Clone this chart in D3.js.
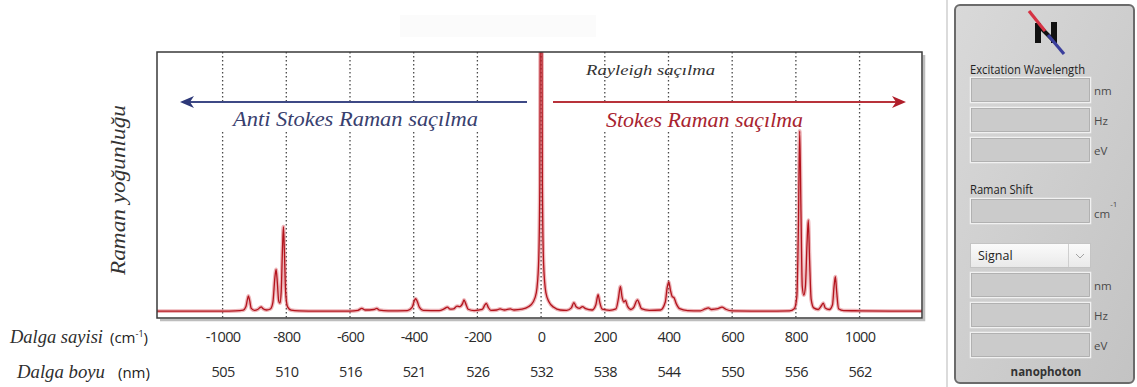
<!DOCTYPE html>
<html>
<head>
<meta charset="utf-8">
<script src="https://cdn.jsdelivr.net/npm/d3@7"></script>
<style>
body{margin:0;background:#fff}
svg{display:block}
</style>
</head>
<body>
<svg id="chart" width="1137" height="387"></svg>
<script>
// raman kayması (cm-1) ve karşılık gelen dalga boyları
const shiftTicks = [-1000,-800,-600,-400,-200,0,200,400,600,800,1000];
const wavelengthLabels = ['505','510','516','521','526','532','538','544','550','556','562'];

// spektrum, resimden okunan noktalar
const spectrumShift = [
  -1206,-1100,-1000,-960,-935,-927,-922,-919,-915,-910,-900,-890,-882,-879,-874,-862,-850,-842,-836,-832,
  -828,-824,-820,-816,-812,-809,-806,-802,-796,-785,-760,-700,-600,-575,-563,-552,-525,-516,-508,-480,
  -420,-405,-398,-394,-389,-382,-370,-320,-305,-294,-286,-275,-264,-255,-246,-242,-237,-229,-210,-185,
  -176,-172,-166,-158,-140,-129,-115,-97,-85,-60,-40,-25,-15,-8,-4,-2.5,0,2.5,4,8,
  15,25,40,60,80,95,103,110,120,130,140,160,172,179,184,192,215,235,243,249,
  254,260,265,271,282,292,299,303,308,315,340,375,390,396,401,406,412,417,424,435,
  460,500,515,525,535,555,568,580,600,700,780,795,803,808,812,816,820,825,830,835,
  839,843,848,856,870,880,886,892,905,915,920,924,928,934,950,1000,1100,1196
];
const spectrumIntensity = [
  2.6,2.6,2.6,2.7,3.0,4.2,7.0,8.3,6.5,3.6,2.9,3.2,4.0,4.2,3.6,3.0,3.4,6.0,15.0,18.3,
  13.0,6.5,5.6,10.0,26.0,34.3,25.0,9.5,4.2,3.0,2.7,2.6,2.6,2.9,3.6,3.0,3.2,3.6,3.0,2.7,
  2.8,4.0,6.5,7.3,6.3,4.0,2.9,2.8,3.4,4.1,3.3,3.4,4.5,4.3,5.6,6.8,5.5,3.3,2.8,3.2,
  5.0,5.5,4.0,2.9,3.0,3.4,3.0,3.4,3.0,3.3,4.2,6.0,9.5,20,50,115,130,115,50,20,
  9.5,6.0,4.0,3.0,2.9,3.8,5.8,4.2,3.6,4.3,3.5,3.0,5.0,8.8,6.0,3.3,2.9,3.4,7.5,11.9,
  8.0,6.0,6.6,4.5,3.2,4.2,6.3,6.8,5.5,3.5,2.9,3.0,6.0,11.5,13.6,10.5,8.0,7.7,5.5,3.5,
  2.8,2.7,3.4,3.8,3.2,3.5,4.1,3.3,2.7,2.6,2.7,3.5,8.0,35,70.3,40,12,8.6,12,28,
  36.8,22,7.0,3.8,3.2,4.6,5.6,3.8,3.2,5.0,12.0,15.5,10.0,3.5,2.8,2.7,2.6,2.6
];

const excitationUnits = ['nm','Hz','eV'];
const signalUnits = ['nm','Hz','eV'];

const svg = d3.select('#chart');
const plot = {left:157, right:922, top:52, bottom:318};

const x = d3.scaleLinear().domain([-1206,1196]).range([plot.left,plot.right]);
const y = d3.scaleLinear().domain([0,100]).range([plot.bottom,plot.top]);

const serif = '"Liberation Serif","DejaVu Serif",serif';
const sans = '"Open Sans","Noto Sans",sans-serif';

// soluk arka plan kutusu (orijinalde var)
svg.append('rect').attr('x',400).attr('y',15).attr('width',196).attr('height',22).attr('fill','#fbfbfb');

svg.append('defs').append('clipPath').attr('id','plotClip')
  .append('rect').attr('x',plot.left).attr('y',plot.top)
  .attr('width',plot.right-plot.left).attr('height',plot.bottom-plot.top);

// gölge
svg.append('path')
  .attr('d',`M${plot.right+2},${plot.top+3}V${plot.bottom+2}H${plot.left+3}`)
  .attr('fill','none').attr('stroke','#bdbdbd').attr('stroke-width',2.5);

svg.append('rect').attr('x',plot.left).attr('y',plot.top)
  .attr('width',plot.right-plot.left).attr('height',plot.bottom-plot.top).attr('fill','#fff');

// noktalı ızgara
svg.append('g').selectAll('line').data(shiftTicks).enter().append('line')
  .attr('x1',d=>x(d)).attr('x2',d=>x(d))
  .attr('y1',plot.top).attr('y2',plot.bottom)
  .attr('stroke','#4a4a4a').attr('stroke-width',1.3).attr('stroke-dasharray','1.6,2.4');

// yazıların arkasındaki beyaz bant
svg.append('rect').attr('x',218).attr('y',104).attr('width',266).attr('height',26).attr('fill','#fff');
svg.append('rect').attr('x',596).attr('y',104).attr('width',212).attr('height',26).attr('fill','#fff');

// spektrum
const points = spectrumShift.map((s,i)=>[s,spectrumIntensity[i]]);
const line = d3.line().x(d=>x(d[0])).y(d=>y(d[1])).curve(d3.curveMonotoneX);
const spec = svg.append('g').attr('clip-path','url(#plotClip)');
spec.append('path').datum(points).attr('d',line)
  .attr('fill','none').attr('stroke','rgba(214,90,100,0.45)').attr('stroke-width',3.8).attr('stroke-linejoin','round');
spec.append('path').datum(points).attr('d',line)
  .attr('fill','none').attr('stroke','#b3141d').attr('stroke-width',1.3).attr('stroke-linejoin','round');

// oklar
const arrowY = 102;
svg.append('line').attr('x1',188).attr('x2',527).attr('y1',arrowY).attr('y2',arrowY)
  .attr('stroke','#3d4985').attr('stroke-width',2);
svg.append('path').attr('d',`M180,${arrowY}L194,${arrowY-6}L190,${arrowY}L194,${arrowY+6}Z`).attr('fill','#2d3878');
svg.append('line').attr('x1',553).attr('x2',898).attr('y1',arrowY).attr('y2',arrowY)
  .attr('stroke','#b8323a').attr('stroke-width',2);
svg.append('path').attr('d',`M906,${arrowY}L892,${arrowY-6}L896,${arrowY}L892,${arrowY+6}Z`).attr('fill','#b01e2a');

svg.append('text').attr('x',233).attr('y',126)
  .attr('textLength',245).attr('lengthAdjust','spacingAndGlyphs')
  .style('font-family',serif).style('font-style','italic').style('font-size','22px')
  .attr('fill','#38406e').text('Anti Stokes Raman saçılma');
svg.append('text').attr('x',606).attr('y',127)
  .attr('textLength',197).attr('lengthAdjust','spacingAndGlyphs')
  .style('font-family',serif).style('font-style','italic').style('font-size','22px')
  .attr('fill','#a8232f').text('Stokes Raman saçılma');
svg.append('text').attr('x',586).attr('y',75)
  .attr('textLength',129).attr('lengthAdjust','spacingAndGlyphs')
  .style('font-family',serif).style('font-style','italic').style('font-size','15px')
  .attr('fill','#333').text('Rayleigh saçılma');

svg.append('text').attr('transform','translate(125,190) rotate(-90)')
  .attr('text-anchor','middle').attr('textLength',170).attr('lengthAdjust','spacingAndGlyphs')
  .style('font-family',serif).style('font-style','italic').style('font-size','21px')
  .attr('fill','#333').text('Raman yoğunluğu');

// çerçeve
svg.append('rect').attr('x',plot.left).attr('y',plot.top)
  .attr('width',plot.right-plot.left).attr('height',plot.bottom-plot.top)
  .attr('fill','none').attr('stroke','#3a3a3a').attr('stroke-width',1.5);

// eksen yazıları
const axisShift = svg.append('g').attr('transform','translate(0,332)')
  .call(d3.axisBottom(x).tickValues(shiftTicks).tickSize(0).tickPadding(0).tickFormat(d=>String(d)));
const axisWave = svg.append('g').attr('transform','translate(0,367)')
  .call(d3.axisBottom(x).tickValues(shiftTicks).tickSize(0).tickPadding(0)
    .tickFormat((d,i)=>wavelengthLabels[i]));
[axisShift,axisWave].forEach(g=>{
  g.select('.domain').remove();
  g.selectAll('text').style('font-family',sans).style('font-size','14.5px')
    .attr('fill','#2a2a2a').attr('letter-spacing','-0.6');
});

svg.append('text').attr('x',10).attr('y',343)
  .attr('textLength',93).attr('lengthAdjust','spacingAndGlyphs')
  .style('font-family',serif).style('font-style','italic').style('font-size','18px')
  .attr('fill','#2e2e2e').text('Dalga sayisi');
const l1b = svg.append('text').attr('x',110).attr('y',343).style('font-family',sans).style('font-size','15px').attr('fill','#222');
l1b.append('tspan').text('(cm');
l1b.append('tspan').attr('dy',-6).style('font-size','9px').text('-1');
l1b.append('tspan').attr('dy',6).text(')');

svg.append('text').attr('x',17).attr('y',378)
  .attr('textLength',88).attr('lengthAdjust','spacingAndGlyphs')
  .style('font-family',serif).style('font-style','italic').style('font-size','18px')
  .attr('fill','#2e2e2e').text('Dalga boyu');
svg.append('text').attr('x',118).attr('y',378).style('font-family',sans).style('font-size','15px')
  .attr('fill','#222').text('(nm)');

// sağ panel
const defs = svg.select('defs');
const pg = defs.append('linearGradient').attr('id','panelGrad').attr('x1',0).attr('y1',0).attr('x2',1).attr('y2',1);
pg.append('stop').attr('offset','0%').attr('stop-color','#d9d9d9');
pg.append('stop').attr('offset','100%').attr('stop-color','#c3c3c3');
const dg = defs.append('linearGradient').attr('id','dropGrad').attr('x1',0).attr('y1',0).attr('x2',0).attr('y2',1);
dg.append('stop').attr('offset','0%').attr('stop-color','#fbfbfb');
dg.append('stop').attr('offset','100%').attr('stop-color','#e9e9e9');

svg.append('line').attr('x1',947).attr('x2',947).attr('y1',0).attr('y2',387).attr('stroke','#cfcfcf').attr('stroke-width',1.5);
svg.append('rect').attr('x',955).attr('y',5).attr('width',179).attr('height',378).attr('rx',5)
  .attr('fill','url(#panelGrad)').attr('stroke','#6b6b6b').attr('stroke-width',2);

// logo
const logo = svg.append('g');
logo.append('rect').attr('x',1035).attr('y',23).attr('width',6).attr('height',20).attr('fill','#111');
logo.append('rect').attr('x',1051).attr('y',22).attr('width',6).attr('height',21).attr('fill','#111');
logo.append('line').attr('x1',1039).attr('y1',26).attr('x2',1053).attr('y2',40).attr('stroke','#111').attr('stroke-width',4);
logo.append('line').attr('x1',1029).attr('y1',11).attr('x2',1045).attr('y2',31).attr('stroke','#d63344').attr('stroke-width',3.2);
logo.append('line').attr('x1',1048).attr('y1',35).attr('x2',1064).attr('y2',54).attr('stroke','#3b3f9c').attr('stroke-width',3.2);

function field(y0,unit){
  svg.append('rect').attr('x',970.5).attr('y',y0+0.5).attr('width',120).attr('height',25)
    .attr('fill','#cbcbcb').attr('stroke','#f1f1f1').attr('stroke-width',1.5);
  svg.append('rect').attr('x',971.5).attr('y',y0+1.5).attr('width',118).attr('height',23)
    .attr('fill','none').attr('stroke','#a9a9a9').attr('stroke-width',0.8);
  if(unit){
    svg.append('text').attr('x',1094).attr('y',y0+18).style('font-family',sans).style('font-size','11.5px')
      .attr('fill','#4a4a4a').text(unit);
  }
}
const panelLabel = (t,yy)=>svg.append('text').attr('x',970).attr('y',yy).style('font-family',sans)
  .style('font-size','12px').attr('fill','#222').text(t);

panelLabel('Excitation Wavelength',74).attr('textLength',115).attr('lengthAdjust','spacingAndGlyphs');
[77,107,137].forEach((yy,i)=>field(yy,excitationUnits[i]));

panelLabel('Raman Shift',194).attr('textLength',63).attr('lengthAdjust','spacingAndGlyphs');
field(198,null);
const cm = svg.append('text').attr('x',1094).attr('y',218).style('font-family',sans).style('font-size','11.5px').attr('fill','#4a4a4a');
cm.append('tspan').text('cm');
cm.append('tspan').attr('dy',-11).style('font-size','8px').text('-1');

// açılır menü
svg.append('rect').attr('x',970.5).attr('y',243.5).attr('width',120).attr('height',24)
  .attr('fill','url(#dropGrad)').attr('stroke','#c4c4c4');
svg.append('line').attr('x1',1068.5).attr('x2',1068.5).attr('y1',244).attr('y2',267).attr('stroke','#cfcfcf');
svg.append('text').attr('x',978).attr('y',260).style('font-family',sans).style('font-size','12.5px').attr('fill','#222').text('Signal');
svg.append('path').attr('d','M1076,254L1080,258L1084,254').attr('fill','none').attr('stroke','#9a9a9a').attr('stroke-width',0.9);

[272,302,332].forEach((yy,i)=>field(yy,signalUnits[i]));

svg.append('text').attr('x',1046).attr('y',376).attr('text-anchor','middle')
  .style('font-family',sans).style('font-size','11.5px').style('font-weight','bold')
  .attr('fill','#333').text('nanophoton');
</script>
</body>
</html>
